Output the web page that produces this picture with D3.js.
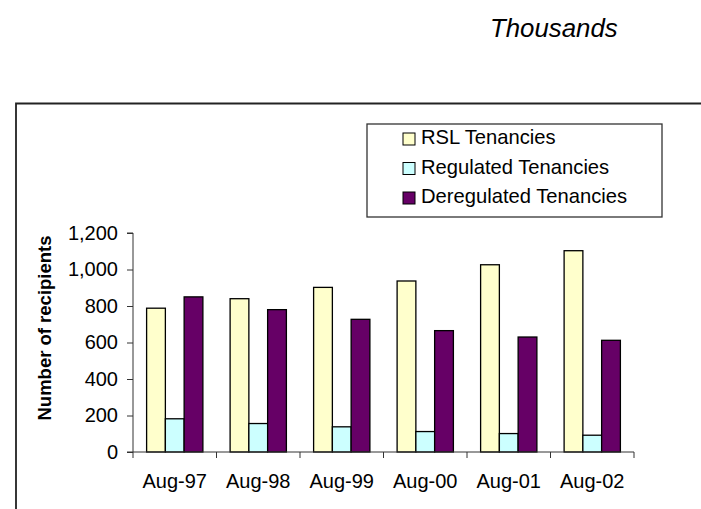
<!DOCTYPE html>
<html><head><meta charset="utf-8">
<script src="https://cdn.jsdelivr.net/npm/d3@7"></script>
<style>
html,body{margin:0;padding:0;background:#fff;}
svg{display:block;font-family:"Liberation Sans",Arial,sans-serif;}
</style></head>
<body>
<svg id="c" width="701" height="509"></svg>
<script>
const categories = ["Aug-97","Aug-98","Aug-99","Aug-00","Aug-01","Aug-02"];
const seriesNames = ["RSL Tenancies","Regulated Tenancies","Deregulated Tenancies"];
const rslValues = [788, 840, 902, 937, 1026, 1103];
const regulatedValues = [182, 156, 138, 112, 101, 92];
const deregulatedValues = [850, 780, 727, 665, 630, 612];
const seriesColors = ["#FFFFCC","#CCFFFF","#660066"];
const yTicks = [0,200,400,600,800,1000,1200];

const seriesValues = [rslValues, regulatedValues, deregulatedValues];
const svg = d3.select("#c");

// frame
svg.append("path").attr("d","M16,509V103.5H701").attr("fill","none").attr("stroke","#222").attr("stroke-width",1.8);

svg.append("text").attr("x",490).attr("y",37).attr("font-size",25.8).attr("font-style","italic").attr("fill","#000").text("Thousands");

const x0 = d3.scaleBand().domain(categories).range([133,634]).paddingInner(0.326).paddingOuter(0.163);
const x1 = d3.scaleBand().domain(seriesNames).range([0,x0.bandwidth()]);
const y = d3.scaleLinear().domain([0,1200]).range([452,233]);

// bars
const g = svg.append("g");
categories.forEach((c,i)=>{
  seriesNames.forEach((s,j)=>{
    g.append("rect")
      .attr("x", x0(c)+x1(s))
      .attr("y", y(seriesValues[j][i]))
      .attr("width", x1.bandwidth())
      .attr("height", y(0)-y(seriesValues[j][i]))
      .attr("fill", seriesColors[j])
      .attr("stroke","#000").attr("stroke-width",1.3);
  });
});

// y axis
const ya = svg.append("g").attr("transform","translate(133,0)")
  .call(d3.axisLeft(y).tickValues(yTicks).tickFormat(d3.format(",")).tickSize(6).tickPadding(9));
ya.select(".domain").attr("stroke","#333").attr("d","M-6,"+y(1200)+"H0V"+y(0)+"H-6");
ya.selectAll(".tick line").attr("stroke","#333");
ya.selectAll("text").attr("font-size",20).attr("font-family","Liberation Sans, Arial, sans-serif").attr("fill","#000");

// x axis
const xa = svg.append("g").attr("transform","translate(0,452)")
  .call(d3.axisBottom(x0).tickSize(0).tickPadding(22));
xa.select(".domain").attr("stroke","#333").attr("d","M133,0H634");
xa.selectAll("text").attr("font-size",20).attr("font-family","Liberation Sans, Arial, sans-serif").attr("fill","#000");
const bounds = categories.map(c=>x0(c)-x0.step()*0.163).concat([634]);
xa.selectAll(".bt").data(bounds).enter().append("line")
  .attr("x1",d=>d).attr("x2",d=>d).attr("y1",0).attr("y2",6).attr("stroke","#333");

// y title
svg.append("text").attr("transform","translate(51,328) rotate(-90)")
  .attr("text-anchor","middle").attr("font-size",18.5).attr("font-weight","bold").text("Number of recipients");

// legend
svg.append("rect").attr("x",367).attr("y",124).attr("width",295).attr("height",93)
  .attr("fill","#fff").attr("stroke","#333").attr("stroke-width",1.3);
const ly = d3.scalePoint().domain(seriesNames).range([137,196]);
seriesNames.forEach((s,j)=>{
  svg.append("rect").attr("x",403).attr("y",ly(s)-4).attr("width",12).attr("height",12)
    .attr("fill",seriesColors[j]).attr("stroke","#000").attr("stroke-width",1);
  svg.append("text").attr("x",421).attr("y",ly(s)+7).attr("font-size",20.2).text(s);
});
</script>
</body></html>
